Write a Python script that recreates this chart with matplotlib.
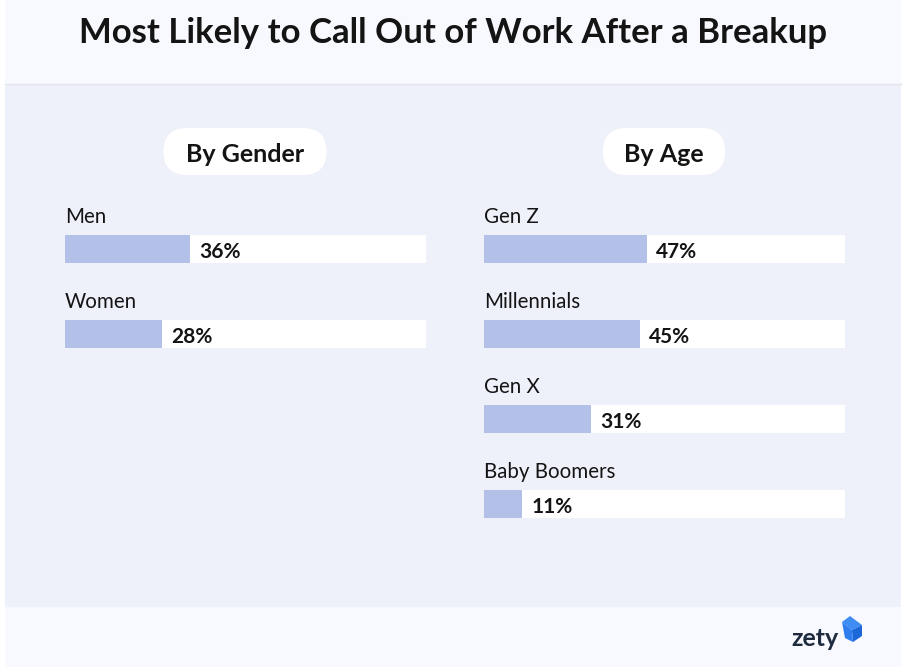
import matplotlib

matplotlib.use("Agg")
import matplotlib.pyplot as plt
from matplotlib.patches import FancyBboxPatch, Rectangle, Polygon

plt.rcParams["font.family"] = ["Lato", "DejaVu Sans"]

TITLE = "Most Likely to Call Out of Work After a Breakup"

gender_labels = ["Men", "Women"]
gender_values = [36, 28]

age_labels = ["Gen Z", "Millennials", "Gen X", "Baby Boomers"]
age_values = [47, 45, 31, 11]

BAR_COLOR = "#b3c1e9"
TRACK_COLOR = "#ffffff"
PANEL_COLOR = "#eef1fa"
HEADER_COLOR = "#f8f9fe"
TEXT_COLOR = "#141414"

W, H = 906, 667
fig = plt.figure(figsize=(W / 100, H / 100), dpi=100)
fig.patch.set_facecolor("white")

# capa de fondo en coordenadas de píxel
bg = fig.add_axes([0, 0, 1, 1])
bg.set_xlim(0, W)
bg.set_ylim(H, 0)
bg.axis("off")
bg.add_patch(Rectangle((5, 0), W - 10, H, color=HEADER_COLOR, lw=0))
bg.add_patch(Rectangle((5, 84), W - 10, 523, color=PANEL_COLOR, lw=0))
bg.plot([5, W - 5], [83.5, 83.5], color="#e2e5ee", lw=1)
bg.text(W / 2, 33, TITLE, ha="center", va="center", fontsize=25,
        fontweight="bold", color=TEXT_COLOR)

for cx, w, txt in [(245, 163, "By Gender"), (664, 122, "By Age")]:
    bg.add_patch(FancyBboxPatch((cx - w / 2, 128), w, 47,
                                boxstyle="round,pad=0,rounding_size=23.5",
                                fc="white", ec="none"))
    bg.text(cx, 154, txt, ha="center", va="center", fontsize=18,
            fontweight="bold", color=TEXT_COLOR)

# logo
bg.text(839, 638, "zety", ha="right", va="center", fontsize=18,
        fontweight="bold", color="#1e2a3e")
bg.add_patch(Polygon([(842, 622), (850, 616), (862, 625), (852, 630)],
                     closed=True, fc="#3f8cf3", ec="none"))
bg.add_patch(Polygon([(852, 630), (862, 625), (862, 636), (853, 642)],
                     closed=True, fc="#1b67d8", ec="none"))
bg.add_patch(Polygon([(842, 622), (852, 630), (853, 642), (845, 638)],
                     closed=True, fc="#2f7ef0", ec="none"))

ROW_PX = 85
TOP_PX, BOT_PX = 190, 540
FIRST_ROW_PX = 249
TRACK_MAX = 104.3


def draw_panel(x0_px, labels, values):
    ax = fig.add_axes([x0_px / W, 1 - BOT_PX / H, 361 / W, (BOT_PX - TOP_PX) / H])
    ax.set_facecolor("none")
    ax.set_xlim(0, TRACK_MAX)
    ax.set_ylim((BOT_PX - FIRST_ROW_PX) / ROW_PX, (TOP_PX - FIRST_ROW_PX) / ROW_PX)
    ax.axis("off")
    rows = range(len(labels))
    ax.barh(rows, [TRACK_MAX] * len(labels), height=28 / ROW_PX, color=TRACK_COLOR, lw=0)
    ax.barh(rows, values, height=28 / ROW_PX, color=BAR_COLOR, lw=0)
    for i, (lab, v) in enumerate(zip(labels, values)):
        ax.text(0, i - 32 / ROW_PX, lab, ha="left", va="center",
                fontsize=14.8, color=TEXT_COLOR)
        ax.text(v + 2.7, i + 3 / ROW_PX, f"{v}%", ha="left", va="center",
                fontsize=15, fontweight="bold", color=TEXT_COLOR)
    return ax


draw_panel(65, gender_labels, gender_values)
draw_panel(484, age_labels, age_values)

fig.savefig("out.png", dpi=100, facecolor=fig.get_facecolor())
